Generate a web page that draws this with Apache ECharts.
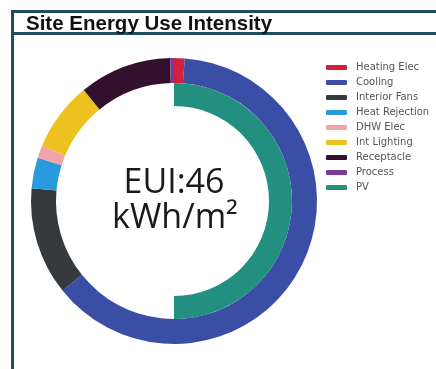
<!DOCTYPE html>
<html>
<head>
<meta charset="utf-8">
<script src="https://cdn.jsdelivr.net/npm/echarts@6/dist/echarts.min.js"></script>
<style>
  html, body { margin: 0; padding: 0; background: #fff; }
  #chart { width: 436px; height: 369px; }
</style>
</head>
<body>
<div id="chart"></div>
<script>
// End uses (kWh/m² per year) and on-site generation
const endUses = ['Heating Elec', 'Cooling', 'Interior Fans', 'Heat Rejection', 'DHW Elec', 'Int Lighting', 'Receptacle', 'Process'];
const endUseValues = [0.55, 29.0, 5.6, 1.6, 0.65, 3.6, 4.8, 0.2];
const generation = ['PV'];
const generationValues = [23.0];
const euiTotal = 46;

const palette = {
  'Heating Elec': '#d1213b',
  'Cooling': '#3a4ea6',
  'Interior Fans': '#363a3d',
  'Heat Rejection': '#2a9ade',
  'DHW Elec': '#f3a3a7',
  'Int Lighting': '#edc21e',
  'Receptacle': '#33102b',
  'Process': '#7a3a9c',
  'PV': '#238f80'
};

const totalUse = endUseValues.reduce((a, b) => a + b, 0);
const pvTotal = generationValues.reduce((a, b) => a + b, 0);

const frameColor = '#1f4d62';
const centerFont = '34px "Open Sans", sans-serif';
const chart = echarts.init(document.getElementById('chart'), null, { renderer: 'canvas' });

chart.setOption({
  animation: false,
  title: {
    text: 'Site Energy Use Intensity',
    left: 26,
    top: 14,
    padding: 0,
    textStyle: { fontFamily: 'Liberation Sans, Arial, sans-serif', fontWeight: 'bold', fontSize: 20.5, color: '#111' }
  },
  legend: {
    orient: 'vertical',
    left: 326,
    top: 62,
    padding: 0,
    itemWidth: 21,
    itemHeight: 5,
    itemGap: 4,
    icon: 'roundRect',
    data: endUses.concat(generation),
    selectedMode: false,
    textStyle: { fontFamily: 'DejaVu Sans, sans-serif', fontSize: 10, color: '#555', lineHeight: 11, padding: [0, 0, 0, 4] }
  },
  graphic: [
    { type: 'rect', shape: { x: 11, y: 10, width: 440, height: 3 }, style: { fill: frameColor }, silent: true },
    { type: 'rect', shape: { x: 11, y: 32, width: 440, height: 3 }, style: { fill: frameColor }, silent: true },
    { type: 'rect', shape: { x: 11, y: 10, width: 3, height: 370 }, style: { fill: frameColor }, silent: true },
    {
      type: 'text', x: 174, y: 183, silent: true,
      style: { text: 'EUI:' + euiTotal, align: 'center', verticalAlign: 'middle', font: centerFont, fill: '#1a1a1a' }
    },
    {
      type: 'text', x: 175, y: 218, silent: true,
      style: { text: 'kWh/m²', align: 'center', verticalAlign: 'middle', font: centerFont, fill: '#1a1a1a' }
    }
  ],
  series: [
    {
      name: 'End Use',
      type: 'pie',
      center: [174, 201],
      radius: [118, 143],
      startAngle: 90,
      clockwise: true,
      silent: true,
      label: { show: false },
      labelLine: { show: false },
      itemStyle: { borderWidth: 0 },
      data: endUses.map((n, i) => ({ name: n, value: endUseValues[i], itemStyle: { color: palette[n] } }))
    },
    {
      name: 'Generation',
      type: 'pie',
      center: [174, 201],
      radius: [95, 118],
      startAngle: 90,
      clockwise: true,
      silent: true,
      label: { show: false },
      labelLine: { show: false },
      itemStyle: { borderWidth: 0 },
      data: generation.map((n, i) => ({ name: n, value: generationValues[i], itemStyle: { color: palette[n] } }))
        .concat([{ name: '', value: totalUse - pvTotal, itemStyle: { color: 'rgba(0,0,0,0)' } }])
    }
  ]
});
</script>
</body>
</html>
